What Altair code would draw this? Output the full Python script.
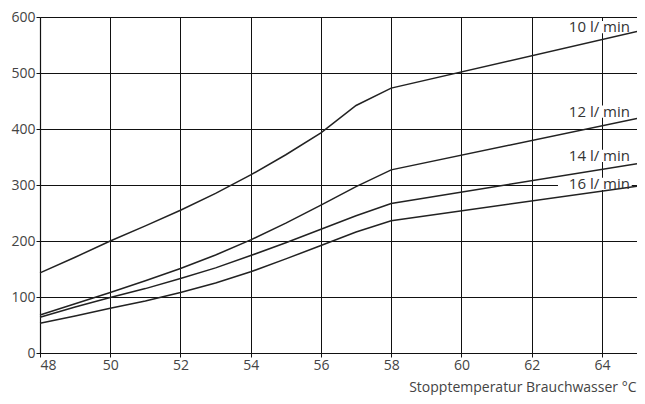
import altair as alt
import pandas as pd

temps = [48, 49, 50, 51, 52, 53, 54, 55, 56, 57, 58, 65]
flow_10 = [143, 171, 200, 227, 255, 285, 318, 354, 393, 442, 473, 574]
flow_12 = [68, 88, 108, 129, 151, 175, 202, 232, 264, 297, 327, 419]
flow_14 = [64, 82, 99, 115, 133, 152, 174, 197, 221, 245, 267, 338]
flow_16 = [53, 66, 80, 93, 108, 125, 145, 168, 192, 216, 236, 298]

series_names = ["10 l/ min", "12 l/ min", "14 l/ min", "16 l/ min"]
label_x = [64.8, 64.8, 64.8, 64.8]
label_y = [582, 431, 352, 302]

x_ticks = [48, 50, 52, 54, 56, 58, 60, 62, 64]
y_ticks = [0, 100, 200, 300, 400, 500, 600]

rows = []
for name, vals in zip(series_names, [flow_10, flow_12, flow_14, flow_16]):
    for t, v in zip(temps, vals):
        rows.append({"serie": name, "temp": t, "val": v})
df = pd.DataFrame(rows)

lab = pd.DataFrame({"serie": series_names, "x": label_x, "y": label_y})
lab["x0"] = lab["x"] - 2.05
lab["x1"] = lab["x"] + 0.05
lab["y0"] = lab["y"] - 11
lab["y1"] = lab["y"] + 11

FONT = "Open Sans"

xscale = alt.Scale(domain=[48, 65], nice=False, zero=False)
yscale = alt.Scale(domain=[0, 600], nice=False)

xaxis = alt.Axis(values=x_ticks, grid=True, gridColor="#111", gridOpacity=1, gridWidth=1,
                 domainColor="#111", domainWidth=1.2, tickColor="#111", tickSize=4,
                 labelFont=FONT, labelFontSize=14, labelColor="#444", labelPadding=1,
                 title="Stopptemperatur Brauchwasser °C", titleFont=FONT, titleFontSize=14,
                 titleFontWeight="normal", titleColor="#444", titleAnchor="end",
                 titleAlign="right", titleX=596, titleY=38, titleBaseline="alphabetic")
yaxis = alt.Axis(values=y_ticks, grid=True, gridColor="#111", gridOpacity=1, gridWidth=1,
                 domainColor="#111", domainWidth=1.2, tickColor="#111", tickSize=4,
                 labelFont=FONT, labelFontSize=14, labelColor="#444", labelPadding=1,
                 title=None)

lines = alt.Chart(df).mark_line(color="#222", strokeWidth=1.5).encode(
    x=alt.X("temp:Q", scale=xscale, axis=xaxis),
    y=alt.Y("val:Q", scale=yscale, axis=yaxis),
    detail="serie:N",
)

bg = alt.Chart(lab).mark_rect(color="white").encode(
    x=alt.X("x0:Q", scale=xscale), x2="x1:Q",
    y=alt.Y("y0:Q", scale=yscale), y2="y1:Q",
)

texts = alt.Chart(lab).mark_text(align="right", baseline="middle", font=FONT,
                                 fontSize=15, color="#333").encode(
    x=alt.X("x:Q", scale=xscale),
    y=alt.Y("y:Q", scale=yscale),
    text="serie:N",
)

chart = alt.layer(bg, lines, texts).properties(
    width=597, height=336,
    autosize=alt.AutoSizeParams(type="none"),
    padding={"left": 32, "top": 9, "right": 0, "bottom": 42},
).configure_view(stroke="#111", strokeWidth=1).configure(background="white")

chart.save("out.html", embed_options={"renderer": "svg", "actions": False})
